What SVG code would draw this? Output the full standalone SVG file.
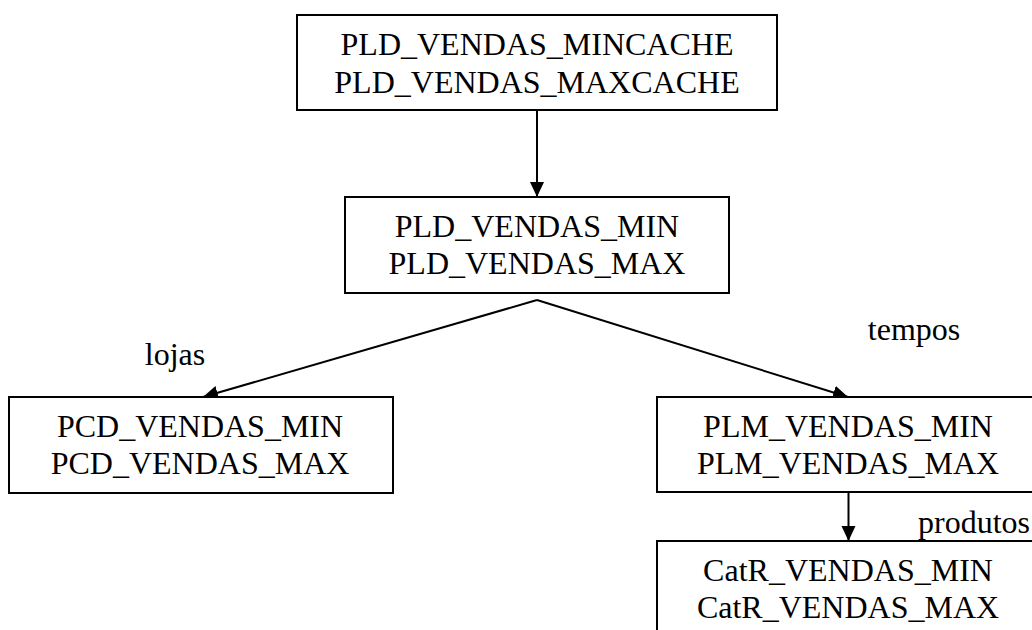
<svg xmlns="http://www.w3.org/2000/svg" width="1032" height="630" viewBox="0 0 1032 630">
<style>
.box{fill:#fff;stroke:#000;stroke-width:2}
.t{font-family:"Liberation Serif","Times New Roman",serif;font-size:32px;fill:#000;text-anchor:middle}
.lbl{font-family:"Liberation Serif","Times New Roman",serif;font-size:32px;fill:#000}
.c{stroke:#000;stroke-width:2;fill:none}
</style>
<defs>
<marker id="ah" markerUnits="userSpaceOnUse" markerWidth="16" markerHeight="15" refX="15" refY="7" orient="auto">
<path d="M0,0 L15,7 L0,14 z" fill="#000"/>
</marker>
</defs>
<rect width="1032" height="630" fill="#fff"/>
<g id="connectors">
<line class="c" x1="537" y1="110" x2="537" y2="197" marker-end="url(#ah)"/>
<line class="c" x1="537" y1="300" x2="203" y2="397" marker-end="url(#ah)"/>
<line class="c" x1="537" y1="300" x2="848" y2="397" marker-end="url(#ah)"/>
<line class="c" x1="848.5" y1="492" x2="848.5" y2="541" marker-end="url(#ah)"/>
<text class="lbl" x="175" y="365" text-anchor="middle">lojas</text>
<text class="lbl" x="914" y="340" text-anchor="middle">tempos</text>
<text class="lbl" x="918" y="533">produtos</text>
</g>
<g id="n1">
<rect class="box" x="297" y="15" width="480" height="95"/>
<text class="t" x="537" y="55">PLD_VENDAS_MINCACHE</text>
<text class="t" x="537" y="93">PLD_VENDAS_MAXCACHE</text>
</g>
<g id="n2">
<rect class="box" x="345" y="197" width="384" height="96"/>
<text class="t" x="537" y="237">PLD_VENDAS_MIN</text>
<text class="t" x="537" y="274">PLD_VENDAS_MAX</text>
</g>
<g id="n3">
<rect class="box" x="9" y="397" width="384" height="96"/>
<text class="t" x="200" y="437">PCD_VENDAS_MIN</text>
<text class="t" x="200" y="474">PCD_VENDAS_MAX</text>
</g>
<g id="n4">
<rect class="box" x="657" y="397" width="383" height="95"/>
<text class="t" x="848" y="437">PLM_VENDAS_MIN</text>
<text class="t" x="848" y="474">PLM_VENDAS_MAX</text>
</g>
<g id="n5">
<rect class="box" x="657" y="541" width="383" height="96"/>
<text class="t" x="848" y="581">CatR_VENDAS_MIN</text>
<text class="t" x="848" y="618">CatR_VENDAS_MAX</text>
</g>
</svg>
